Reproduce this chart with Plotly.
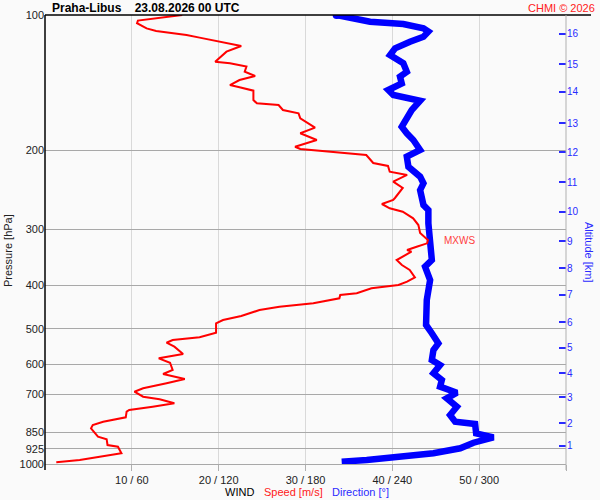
import numpy as np
import plotly.graph_objects as go

# sounding Praha-Libus, wind profile
speed_pres = [100, 102.9, 104.3, 107.1, 108.5, 109.8, 110.8, 112.3, 114.7, 117.2,
              120.7, 123.9, 127.1, 128.1, 130.3, 133.8, 136.7, 139.6, 143.2, 144.9,
              147.4, 154.6, 157.3, 158.7, 162.8, 165.6, 169.9, 178.2, 183.4, 189.8,
              196.5, 198.8, 201.6, 205, 213.6, 216.9, 223.4, 227.1, 235.1, 242.8,
              255.6, 258.2, 263.6, 269.5, 274.2, 283.7, 293.6, 305.9, 317.1, 322.5,
              328.1, 333.7, 336.6, 351.3, 360.4, 369.8, 383.9, 392.6, 399.3, 406.2,
              416.7, 420.3, 427.6, 438.7, 446.4, 454, 468.2, 477.9, 486, 510,
              522.2, 529.5, 536.9, 548, 568.9, 574.8, 581.6, 594.9, 617.5, 630.4,
              646.7, 661.1, 678.2, 690.2, 708.1, 717.6, 732.5, 745.4, 758.2, 764.8,
              787.1, 805.1, 818.8, 832.8, 869.5, 881.1, 907.2, 915.1, 946.6, 963.2,
              979.7, 991.3]
speed_ms = [15.8, 10.7, 10.6, 11.7, 12.8, 14.7, 16.3, 17.8, 20.1, 22.6,
            20.9, 20.3, 19.6, 21.3, 23.2, 23.0, 24.2, 22.4, 21.3, 22.4,
            24.0, 24.0, 24.4, 26.9, 27.4, 29.2, 29.4, 31.1, 29.4, 31.3,
            28.8, 29.4, 33.2, 37.0, 37.8, 39.5, 39.7, 41.7, 40.1, 41.2,
            40.3, 40.1, 38.8, 39.7, 41.2, 42.4, 43.0, 43.2, 44.1, 44.0,
            42.8, 41.7, 42.2, 40.5, 41.1, 42.0, 42.6, 41.7, 40.7, 37.6,
            35.9, 34.0, 33.9, 30.9, 27.0, 24.7, 22.6, 20.5, 19.7, 19.7,
            17.8, 14.7, 14.0, 14.9, 15.9, 14.4, 13.1, 14.4, 14.7, 13.6,
            16.1, 14.0, 11.3, 10.3, 11.3, 13.2, 14.9, 12.4, 9.7, 9.4,
            9.3, 6.7, 5.5, 5.3, 6.1, 7.1, 7.2, 8.4, 8.8, 6.3,
            4.0, 1.3]

dir_pres = [100, 101.0, 103.5, 104.7, 107.1, 108.9, 111.8, 114.7, 118.6, 122.8,
            125.9, 128.1, 133.8, 137.2, 142.0, 146.9, 150.7, 155.2, 162.8, 177.4,
            183.4, 189.8, 199.8, 206.8, 217.7, 229.1, 237.1, 245.4, 265, 271.8,
            291, 311.7, 330.8, 351.3, 363.5, 389.2, 431.3, 454, 490.1, 511.5,
            538.6, 557.3, 586.8, 602, 628.1, 650, 672.6, 693.8, 714, 745.4,
            777.9, 805.1, 814.6, 854.4, 872.1, 896.6, 922.6, 946.6, 966.3, 979.7,
            988.1]
dir_deg = [201.5, 207.3, 224.6, 247.6, 261.5, 264.9, 261.5, 252.2, 241.9, 238.4,
           243.0, 247.6, 250.0, 245.3, 246.5, 237.2, 240.7, 259.2, 253.4, 246.5,
           250.0, 254.5, 259.2, 250.0, 251.1, 259.2, 261.5, 259.2, 261.5, 264.9,
           264.9, 266.1, 266.1, 267.3, 262.6, 266.1, 263.8, 263.8, 263.3, 267.3,
           271.8, 268.4, 267.3, 273.0, 268.4, 274.2, 273.0, 284.6, 277.6, 284.6,
           279.9, 283.4, 297.2, 297.9, 309.9, 296.1, 286.9, 268.4, 245.3, 222.3,
           205.0]

pressure_levels = [100, 200, 300, 400, 500, 600, 700, 850, 925, 1000]
alt_km = [1, 2, 3, 4, 5, 6, 7, 8, 9, 10, 11, 12, 13, 14, 15, 16]
alt_pres = [911.8, 810.5, 709.2, 627.1, 551.5, 482.8, 420.3, 366.0, 318.7, 274.6,
            235.5, 201.9, 174.0, 148.4, 128.6, 110.2]
speed_ticks = [10, 20, 30, 40, 50, 60]
dir_ticks = [60, 120, 180, 240, 300, 360]

W, H = 600, 500
L, R, T, B = 45, 34, 15, 36
FONT = "Liberation Sans, Arial, sans-serif"


def px(x):
    return (x - L) / (W - L - R)


def py(y):
    return (H - B - y) / (H - T - B)


tick_text = [f"{s} / {d}" if s < 60 else "" for s, d in zip(speed_ticks, dir_ticks)]

fig = go.Figure()

# direction: base subplot
fig.add_trace(go.Scatter(x=dir_deg, y=dir_pres, mode="lines",
                         line=dict(color="#0000ff", width=6.5),
                         xaxis="x", yaxis="y", hoverinfo="skip"))
fig.add_trace(go.Scatter(x=dir_deg[:1], y=dir_pres[:1], mode="markers",
                         marker=dict(color="#0000ff", size=8),
                         xaxis="x", yaxis="y", hoverinfo="skip"))
# speed: overlay subplot, drawn on top
fig.add_trace(go.Scatter(x=speed_ms, y=speed_pres, mode="lines",
                         line=dict(color="#ff0000", width=2),
                         xaxis="x2", yaxis="y2", hoverinfo="skip"))

i_max = int(np.argmax(speed_ms))
s_max, p_max = speed_ms[i_max], speed_pres[i_max]
lp_max = np.log10(p_max)

shapes = [
    # top frame line
    dict(type="line", xref="paper", yref="paper", x0=0, x1=px(591), y0=1, y1=1,
         line=dict(color="black", width=1.5)),
    # left axis line
    dict(type="line", xref="paper", yref="paper", x0=0, x1=0, y0=py(470), y1=1,
         line=dict(color="black", width=1.5)),
    # right frame line
    dict(type="line", xref="paper", yref="paper", x0=1, x1=1, y0=py(470), y1=1,
         line=dict(color="#b0b0b0", width=1)),
    # max wind markers
    dict(type="line", xref="x2", yref="y2", x0=s_max - 0.1, x1=s_max + 1.2,
         y0=lp_max, y1=lp_max, line=dict(color="#ff0000", width=1)),
    dict(type="line", xref="paper", yref="y", x0=px(43), x1=px(56),
         y0=lp_max, y1=lp_max, line=dict(color="#cc0000", width=1)),
    dict(type="line", xref="paper", yref="y", x0=px(556), x1=px(565),
         y0=lp_max, y1=lp_max, line=dict(color="#cc0000", width=1)),
]


def label(text, x, y, color, size=11, angle=0, anchor="center", bold=False):
    if bold:
        text = f"<b>{text}</b>"
    return dict(text=text, xref="paper", yref="paper", x=px(x), y=py(y),
                xanchor=anchor, yanchor="middle", showarrow=False, textangle=angle,
                font=dict(size=size, color=color))


annotations = [
    label("Praha-Libus    23.08.2026 00 UTC", 50, 8, "black", size=12,
          anchor="left", bold=True),
    label("CHMI © 2026", 597, 8, "#ff2020", anchor="right"),
    label("Pressure [hPa]", 8, 251, "#222222", angle=-90),
    label("Altitude [km]", 589, 252, "#2a2aff", angle=90),
    label("WIND", 239, 492, "black"),
    label("Speed [m/s]", 293, 492, "#ff2020"),
    label("Direction [°]", 360, 492, "#2a2aff"),
    dict(text="MXWS", xref="x2", yref="y2", x=s_max + 1.6, y=lp_max,
         xanchor="left", yanchor="middle", showarrow=False,
         font=dict(size=10, color="#ff4040")),
]

fig.update_layout(
    width=W, height=H,
    margin=dict(l=L, r=R, t=T, b=B, autoexpand=False),
    paper_bgcolor="#fafafa", plot_bgcolor="#fafafa",
    showlegend=False, hovermode=False,
    font=dict(family=FONT, size=11, color="#222222"),
    xaxis=dict(range=[0, 360], tickvals=dir_ticks, ticktext=tick_text,
               showgrid=True, gridcolor="#d9d9d9", gridwidth=1,
               ticks="outside", ticklen=6, tickcolor="#b0b0b0",
               showline=True, linecolor="#a8a8a8", zeroline=False,
               automargin=False, fixedrange=True),
    xaxis2=dict(range=[0, 60], overlaying="x", visible=False, automargin=False),
    yaxis=dict(type="log", range=[3, 2], tickvals=pressure_levels,
               ticktext=[str(p) for p in pressure_levels],
               showgrid=True, gridcolor="#a8a8a8", gridwidth=1,
               ticks="", showline=False, zeroline=False, automargin=False),
    yaxis2=dict(type="log", range=[3, 2], overlaying="y", side="right",
                tickvals=alt_pres, ticktext=[str(a) for a in alt_km],
                showgrid=False, ticks="inside", ticklen=7, tickwidth=1.5,
                tickcolor="#2a2aff", tickfont=dict(size=10, color="#2a2aff"),
                showline=False, zeroline=False, automargin=False),
    shapes=shapes,
    annotations=annotations,
)

# drop the default 8px page margin so the figure sits at the window corner
fig.write_html("out.html", post_script="document.body.style.margin='0';",
               config={"displayModeBar": False})
